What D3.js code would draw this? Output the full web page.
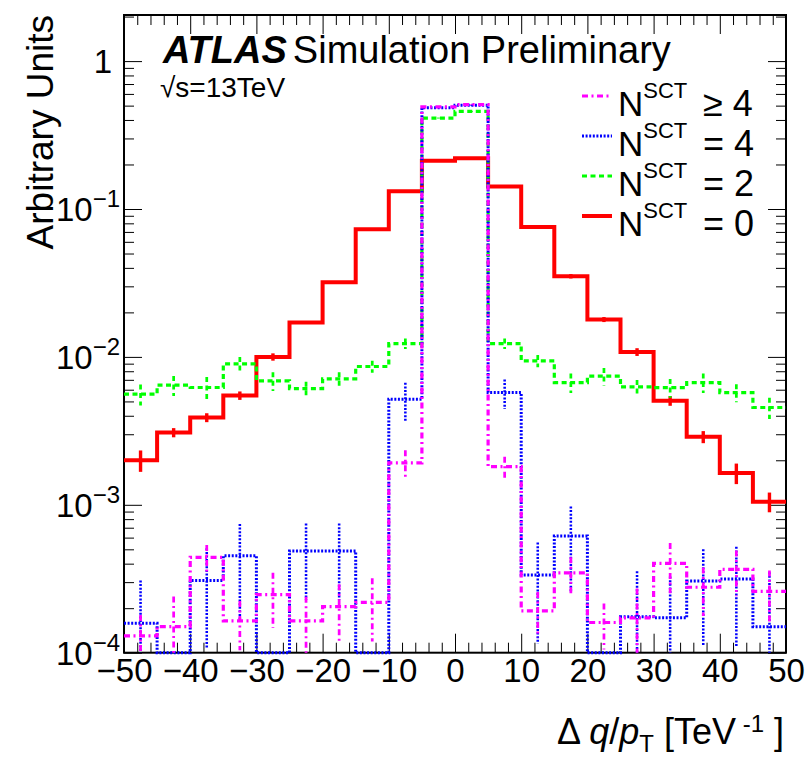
<!DOCTYPE html>
<html>
<head>
<meta charset="utf-8">
<script src="https://cdn.jsdelivr.net/npm/d3@7"></script>
<style>
  body { margin: 0; background: #fff; }
  svg { font-family: "Liberation Sans", Arial, Helvetica, sans-serif; }
</style>
</head>
<body>
<svg width="809" height="758"></svg>
<script>
// bins of delta q/pT [TeV^-1]
const binEdges = [-50, -45, -40, -35, -30, -25, -20, -15, -10, -5, 0, 5, 10, 15, 20, 25, 30, 35, 40, 45, 50];
const binCenters = [-47.5, -42.5, -37.5, -32.5, -27.5, -22.5, -17.5, -12.5, -7.5, -2.5, 2.5, 7.5, 12.5, 17.5, 22.5, 27.5, 32.5, 37.5, 42.5, 47.5];

// N_SCT = 0
const sct0 = [2.0e-3, 3.08e-3, 3.89e-3, 5.48e-3, 1.0e-2, 1.71e-2, 3.2e-2, 7.3e-2, 0.132, 0.212,
              0.22, 0.142, 7.55e-2, 3.51e-2, 1.79e-2, 1.08e-2, 5.05e-3, 2.88e-3, 1.64e-3, 1.05e-3];
const sct0Err = [3.3e-4, 2.2e-4, 2.7e-4, 3.6e-4, 5.7e-4, 3.5e-4, 5e-4, 1e-3, 1.5e-3, 2e-3,
                 2e-3, 1.5e-3, 1.1e-3, 1.2e-3, 7e-4, 6.5e-4, 3.8e-4, 2.7e-4, 2.6e-4, 1.6e-4];
// N_SCT = 2
const sct2 = [5.6e-3, 6.44e-3, 6.21e-3, 8.97e-3, 6.88e-3, 6.11e-3, 7.1e-3, 8.61e-3, 1.23e-2, 0.412,
              0.457, 1.23e-2, 9.4e-3, 6.71e-3, 7.41e-3, 6.27e-3, 6.2e-3, 6.71e-3, 5.74e-3, 4.55e-3];
const sct2Err = [9e-4, 1.0e-3, 1.1e-3, 1.0e-3, 1.0e-3, 6.7e-4, 7.8e-4, 8e-4, 1.0e-3, 3e-3,
                 3e-3, 1.0e-3, 9e-4, 1.0e-3, 1.0e-3, 7e-4, 9e-4, 1.0e-3, 8e-4, 7.5e-4];
// N_SCT = 4
const sct4 = [1.58e-4, 0, 3.08e-4, 4.52e-4, 0, 4.87e-4, 4.87e-4, 0, 5.18e-3, 0.484,
              0.502, 5.74e-3, 3.35e-4, 6.15e-4, 0, 1.75e-4, 1.72e-4, 3.05e-4, 3.15e-4, 1.5e-4];
const sct4Err = [1.5e-4, 0, 2.0e-4, 2.9e-4, 0, 2.6e-4, 2.6e-4, 0, 1.5e-3, 3e-3,
                 3e-3, 1.3e-3, 2.2e-4, 3.6e-4, 0, 1.8e-4, 1.55e-4, 1.95e-4, 2.05e-4, 2.0e-4];
// N_SCT >= 4
const sct4plus = [1.3e-4, 1.5e-4, 4.41e-4, 1.64e-4, 2.47e-4, 1.64e-4, 2.05e-4, 2.19e-4, 1.92e-3, 0.49,
                  0.508, 1.81e-3, 1.92e-4, 3.47e-4, 1.6e-4, 1.72e-4, 4.02e-4, 2.77e-4, 3.66e-4, 2.6e-4];
const sct4plusErr = [5e-5, 9e-5, 9.3e-5, 6e-5, 1.0e-4, 7.5e-5, 8.5e-5, 1.0e-4, 4.2e-4, 3e-3,
                     3e-3, 3.0e-4, 6.5e-5, 9.5e-5, 5.5e-5, 1.0e-4, 1.5e-4, 1.0e-4, 1.25e-4, 1.0e-4];

const xTicks = [-50, -40, -30, -20, -10, 0, 10, 20, 30, 40, 50];
const yDecades = [1, 1e-1, 1e-2, 1e-3, 1e-4];
const yDecadeExps = [0, -1, -2, -3, -4];
const legendLabels = ['\u2265 4', '= 4', '= 2', '= 0'];

const svg = d3.select('svg'),
      margin = {top: 15, right: 23, bottom: 105.3, left: 124},
      width = +svg.attr('width') - margin.left - margin.right,
      height = +svg.attr('height') - margin.top - margin.bottom;

const yMin = 1e-4, yMax = 2.05;
const x = d3.scaleLinear().domain([-50, 50]).range([margin.left, margin.left + width]);
const y = d3.scaleLog().domain([yMin, yMax]).range([margin.top + height, margin.top]);
const yc = (v) => v > yMin ? y(v) : y(yMin);

svg.append('rect').attr('width', 809).attr('height', 758).attr('fill', '#fff');

// minor tick positions
const xMinor = d3.range(-50, 51, 2).filter(d => d % 10 !== 0);
const yMinor = [];
yDecades.forEach(d => { for (let k = 2; k <= 9; k++) { if (k * d < yMax) yMinor.push(k * d); } });

const axes = svg.append('g').attr('class', 'axes');
function tickAxis(axis, tx, ty) {
  const g = axes.append('g').attr('transform', 'translate(' + tx + ',' + ty + ')').call(axis);
  g.select('.domain').remove();
  g.selectAll('line').attr('stroke', '#000').attr('stroke-width', 1);
  return g;
}
const fmtX = (d) => d < 0 ? '\u2212' + Math.abs(d) : '' + d;

tickAxis(d3.axisBottom(x).tickValues(xTicks).tickSize(-19).tickPadding(6).tickFormat(fmtX), 0, y(yMin))
  .selectAll('text').attr('font-size', 33).attr('fill', '#000').attr('font-family', null);
tickAxis(d3.axisBottom(x).tickValues(xMinor).tickSize(-10).tickFormat(''), 0, y(yMin));
tickAxis(d3.axisTop(x).tickValues(xTicks).tickSize(-19).tickFormat(''), 0, margin.top);
tickAxis(d3.axisTop(x).tickValues(xMinor).tickSize(-10).tickFormat(''), 0, margin.top);
tickAxis(d3.axisLeft(y).tickValues(yDecades).tickSize(-18).tickFormat(''), margin.left, 0);
tickAxis(d3.axisLeft(y).tickValues(yMinor).tickSize(-10).tickFormat(''), margin.left, 0);
tickAxis(d3.axisRight(y).tickValues(yDecades).tickSize(-18).tickFormat(''), margin.left + width, 0);
tickAxis(d3.axisRight(y).tickValues(yMinor).tickSize(-10).tickFormat(''), margin.left + width, 0);

// y labels: 1, 10^-1 ...
yDecades.forEach((d, i) => {
  const t = svg.append('text')
    .attr('x', yDecadeExps[i] === 0 ? 112 : 120)
    .attr('y', y(d) + 12)
    .attr('text-anchor', 'end')
    .attr('font-size', 33);
  if (yDecadeExps[i] === 0) {
    t.text('1');
  } else {
    t.append('tspan').text('10');
    t.append('tspan').attr('font-size', 24).attr('dy', -14).text('\u2212' + Math.abs(yDecadeExps[i]));
  }
});

// frame
svg.append('rect')
  .attr('x', margin.left).attr('y', margin.top)
  .attr('width', width).attr('height', height)
  .attr('fill', 'none').attr('stroke', '#000').attr('stroke-width', 2);

// axis titles
svg.append('text')
  .attr('transform', 'translate(53,' + margin.top + ') rotate(-90)')
  .attr('text-anchor', 'end')
  .attr('font-size', 37)
  .text('Arbitrary Units');

const xt = svg.append('text')
  .attr('x', 784).attr('y', 744)
  .attr('text-anchor', 'end')
  .attr('font-size', 36);
xt.append('tspan').text('\u0394 ');
xt.append('tspan').attr('font-style', 'italic').text('q');
xt.append('tspan').text('/');
xt.append('tspan').attr('font-style', 'italic').text('p');
xt.append('tspan').attr('font-size', 24).attr('dy', 8).text('T');
xt.append('tspan').attr('dy', -8).text(' [TeV');
xt.append('tspan').attr('font-size', 24).attr('dy', -12).text(' -1');
xt.append('tspan').attr('dy', 12).text(' ]');

// ATLAS label
const al = svg.append('text').attr('x', 163).attr('y', 63).attr('font-size', 38);
al.append('tspan').attr('font-weight', 'bold').attr('font-style', 'italic').text('ATLAS');
al.append('tspan').attr('dx', 6).text('Simulation Preliminary');
svg.append('text').attr('x', 160).attr('y', 97).attr('font-size', 28).text('\u221As=13TeV');

// histograms
const series = [
  {vals: sct0, errs: sct0Err, color: '#ff0000', width: 4, dash: null},
  {vals: sct2, errs: sct2Err, color: '#00ff00', width: 3.2, dash: '5,3.5'},
  {vals: sct4, errs: sct4Err, color: '#0000ff', width: 3, dash: '2,1.6'},
  {vals: sct4plus, errs: sct4plusErr, color: '#ff00ff', width: 3.2, dash: '6,3.5,2,3.5'}
];

const stepLine = d3.line()
  .curve(d3.curveStepAfter)
  .x(d => x(d[0]))
  .y(d => yc(d[1]));

series.forEach(s => {
  const pts = s.vals.map((v, i) => [binEdges[i], v]);
  pts.push([binEdges[binEdges.length - 1], s.vals[s.vals.length - 1]]);
  const g = svg.append('g');
  g.append('path')
    .attr('d', stepLine(pts))
    .attr('fill', 'none')
    .attr('stroke', s.color)
    .attr('stroke-width', s.width)
    .attr('stroke-dasharray', s.dash)
    .attr('stroke-linejoin', 'miter');
  g.selectAll('line.err')
    .data(s.vals.map((v, i) => ({c: binCenters[i], v: v, e: s.errs[i]})).filter(d => d.v > 0 && d.e > 0))
    .enter().append('line')
      .attr('class', 'err')
      .attr('x1', d => x(d.c)).attr('x2', d => x(d.c))
      .attr('y1', d => yc(d.v + d.e))
      .attr('y2', d => yc(d.v - d.e))
      .attr('stroke', s.color)
      .attr('stroke-width', s.width * 0.85)
      .attr('stroke-dasharray', s.dash);
});

// legend (top to bottom: >=4, =4, =2, =0)
const legendSeries = [series[3], series[2], series[1], series[0]];
legendSeries.forEach((s, i) => {
  const base = 116 + i * 40;
  svg.append('line')
    .attr('x1', 582).attr('x2', 612)
    .attr('y1', base - 20).attr('y2', base - 20)
    .attr('stroke', s.color)
    .attr('stroke-width', s.width)
    .attr('stroke-dasharray', s.dash);
  const t = svg.append('text').attr('x', 618).attr('y', base).attr('font-size', 35);
  t.append('tspan').text('N');
  t.append('tspan').attr('font-size', 22).attr('dy', -18).text('SCT');
  t.append('tspan').attr('x', 703).attr('dy', 18).attr('font-size', 36).text(legendLabels[i]);
});
</script>
</body>
</html>
